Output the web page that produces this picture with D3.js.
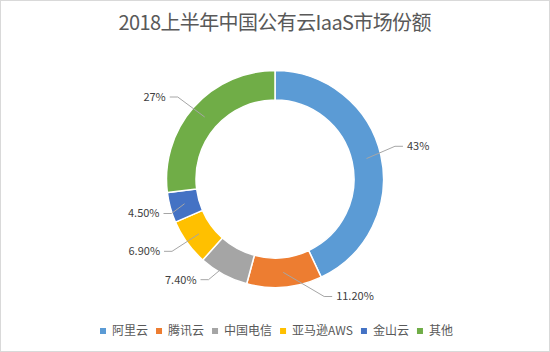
<!DOCTYPE html>
<html>
<head>
<meta charset="utf-8">
<script src="https://cdn.jsdelivr.net/npm/d3@7"></script>
<style>
html,body{margin:0;padding:0;background:#fff;}
svg{display:block;}
text{font-family:"Noto Sans CJK SC","Noto Sans",sans-serif;}
</style>
</head>
<body>
<svg id="chart" width="550" height="352"></svg>
<script>
const title = "2018上半年中国公有云IaaS市场份额";
const categories = ["阿里云", "腾讯云", "中国电信", "亚马逊AWS", "金山云", "其他"];
const values = [43, 11.2, 7.4, 6.9, 4.5, 27];
const valueLabels = ["43%", "11.20%", "7.40%", "6.90%", "4.50%", "27%"];
const colors = ["#5B9BD5", "#ED7D31", "#A5A5A5", "#FFC000", "#4472C4", "#70AD47"];
// label placement nudges (Excel moved labels manually)
const labelNudge = [[-4,-5],[38,-9],[-6,-11],[0,-2],[19,1],[-2,2]];

const W = 550, H = 352;
const cx = 275, cy = 179, outerR = 108.5, innerR = 79;
const svg = d3.select("#chart");

svg.append("rect").attr("x",0.5).attr("y",0.5).attr("width",W-1).attr("height",H-1)
  .attr("fill","#fff").attr("stroke","#D9D9D9");

const tt = svg.append("text").attr("x",275).attr("y",30).attr("text-anchor","middle")
  .attr("font-size",20).attr("fill","#595959").text(title);
// fit to reference title width
const tw = tt.node().getComputedTextLength();
if (Math.abs(tw - 313) > 4) tt.attr("textLength", 313).attr("lengthAdjust","spacing");

const data = categories.map((c,i)=>({name:c, value:values[i], label:valueLabels[i], color:colors[i], nudge:labelNudge[i]}));
const pie = d3.pie().value(d=>d.value).sort(null).startAngle(0).endAngle(2*Math.PI);
const arcs = pie(data);
const arc = d3.arc().innerRadius(innerR).outerRadius(outerR);

const g = svg.append("g").attr("transform",`translate(${cx},${cy})`);
g.selectAll("path.slice").data(arcs).join("path").attr("class","slice")
  .attr("d",arc).attr("fill",d=>d.data.color).attr("stroke","#fff").attr("stroke-width",1.5);

const midR = (innerR+outerR)/2, lblR = outerR + 18.5;
arcs.forEach(a=>{
  const m = (a.startAngle+a.endAngle)/2;
  const sx = Math.sin(m)*midR, sy = -Math.cos(m)*midR;
  const ex = Math.sin(m)*lblR + a.data.nudge[0], ey = -Math.cos(m)*lblR + a.data.nudge[1];
  const right = Math.sin(m) > 0;
  const hx = ex + (right ? 8 : -8);
  g.append("polyline").attr("points",`${sx},${sy} ${ex},${ey} ${hx},${ey}`)
    .attr("fill","none").attr("stroke","#A6A6A6").attr("stroke-width",1);
  g.append("text").attr("x",hx + (right?4:-4)).attr("y",ey).attr("dy","0.36em")
    .attr("text-anchor", right?"start":"end").attr("font-size",11).attr("fill","#404040")
    .text(a.data.label);
});

// legend
const leg = svg.append("g").attr("transform","translate(0,331)");
let x = 100;
data.forEach(d=>{
  leg.append("rect").attr("x",x).attr("y",-3).attr("width",6).attr("height",6).attr("fill",d.color);
  const t = leg.append("text").attr("x",x+12).attr("y",0).attr("dy","0.36em")
    .attr("font-size",12).attr("fill","#595959").text(d.name);
  x += 12 + t.node().getComputedTextLength() + 8;
});
</script>
</body>
</html>
